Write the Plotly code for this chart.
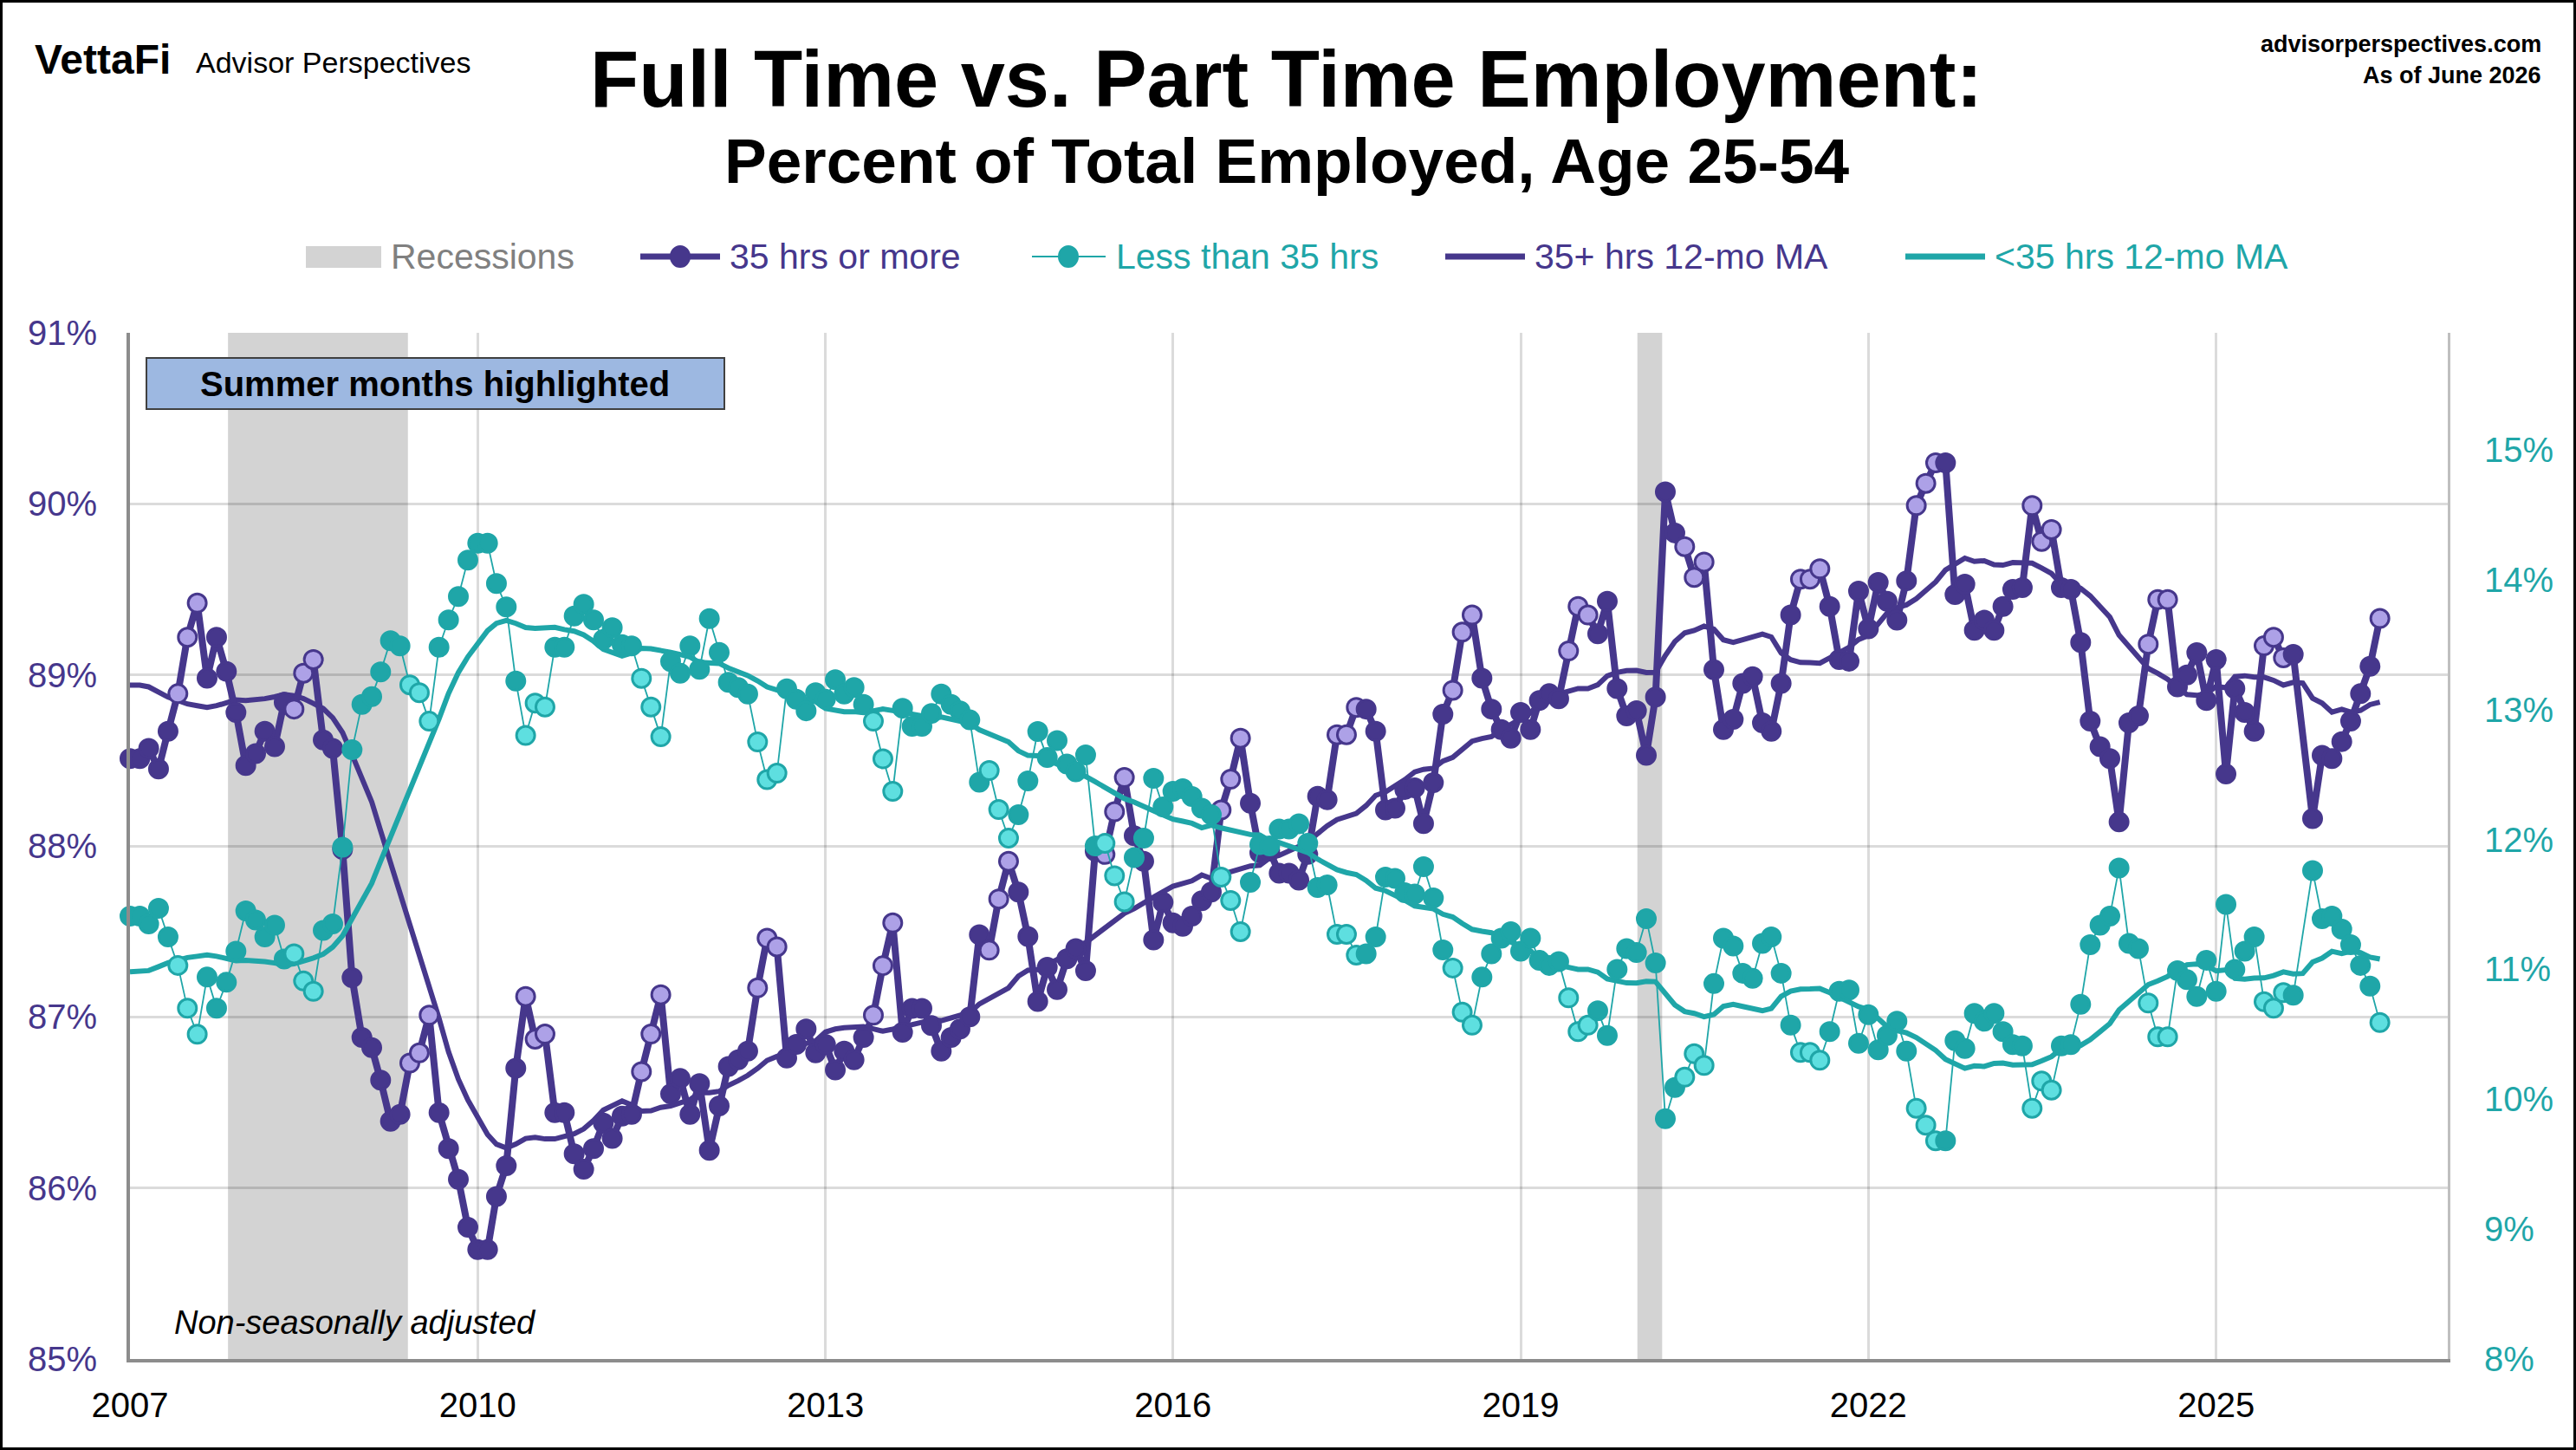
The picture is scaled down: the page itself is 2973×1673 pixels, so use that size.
import pandas as pd
import plotly.graph_objects as go

# ---------------- data ----------------
months = pd.date_range("2007-01-01", "2026-06-01", freq="MS")

full_time = [
    88.51, 88.51, 88.57, 88.45, 88.67, 88.89, 89.22, 89.42, 88.98, 89.22, 89.02, 88.78,
    88.47, 88.54, 88.67, 88.58, 88.84, 88.80, 89.01, 89.09, 88.62, 88.57, 87.98, 87.23,
    86.88, 86.82, 86.63, 86.39, 86.43, 86.73, 86.79, 87.01, 86.44, 86.23, 86.05, 85.77,
    85.64, 85.64, 85.95, 86.13, 86.70, 87.12, 86.87, 86.90, 86.44, 86.44, 86.20, 86.11,
    86.23, 86.38, 86.29, 86.42, 86.43, 86.68, 86.90, 87.13, 86.55, 86.64, 86.43, 86.61,
    86.22, 86.48, 86.71, 86.75, 86.80, 87.17, 87.46, 87.41, 86.76, 86.84, 86.93, 86.79,
    86.84, 86.69, 86.80, 86.75, 86.88, 87.01, 87.30, 87.55, 86.91, 87.05, 87.05, 86.95,
    86.80, 86.88, 86.93, 87.00, 87.48, 87.39, 87.69, 87.91, 87.73, 87.47, 87.09, 87.29,
    87.16, 87.34, 87.40, 87.27, 87.97, 87.95, 88.20, 88.40, 88.06, 87.91, 87.45, 87.67,
    87.55, 87.53, 87.59, 87.68, 87.73, 88.21, 88.39, 88.63, 88.25, 87.96, 87.97, 87.84,
    87.84, 87.80, 87.95, 88.29, 88.27, 88.65, 88.65, 88.81, 88.80, 88.67, 88.21, 88.22,
    88.33, 88.34, 88.13, 88.37, 88.77, 88.91, 89.25, 89.35, 88.98, 88.80, 88.68, 88.63,
    88.78, 88.68, 88.85, 88.89, 88.86, 89.14, 89.40, 89.35, 89.24, 89.43, 88.92, 88.76,
    88.79, 88.53, 88.87, 90.07, 89.83, 89.75, 89.57, 89.66, 89.03, 88.68, 88.74, 88.95,
    88.99, 88.72, 88.67, 88.95, 89.35, 89.56, 89.56, 89.62, 89.40, 89.09, 89.08, 89.49,
    89.27, 89.54, 89.43, 89.32, 89.55, 89.99, 90.12, 90.24, 90.24, 89.47, 89.53, 89.26,
    89.32, 89.26, 89.40, 89.50, 89.51, 89.99, 89.78, 89.85, 89.51, 89.50, 89.19, 88.73,
    88.58, 88.51, 88.14, 88.72, 88.76, 89.18, 89.44, 89.44, 88.93, 89.00, 89.13, 88.85,
    89.09, 88.42, 88.92, 88.78, 88.67, 89.17, 89.22, 89.10, 89.12, None, 88.16, 88.53,
    88.51, 88.61, 88.73, 88.89, 89.05, 89.33,
]

part_time = [
    11.41, 11.41, 11.35, 11.47, 11.25, 11.03, 10.70, 10.50, 10.94, 10.70, 10.90, 11.14,
    11.45, 11.38, 11.25, 11.34, 11.08, 11.12, 10.91, 10.83, 11.30, 11.35, 11.94, 12.69,
    13.04, 13.10, 13.29, 13.53, 13.49, 13.19, 13.13, 12.91, 13.48, 13.69, 13.87, 14.15,
    14.28, 14.28, 13.97, 13.79, 13.22, 12.80, 13.05, 13.02, 13.48, 13.48, 13.72, 13.81,
    13.69, 13.54, 13.63, 13.50, 13.49, 13.24, 13.02, 12.79, 13.37, 13.28, 13.49, 13.31,
    13.70, 13.44, 13.21, 13.17, 13.12, 12.75, 12.46, 12.51, 13.16, 13.08, 12.99, 13.13,
    13.08, 13.23, 13.12, 13.17, 13.04, 12.91, 12.62, 12.37, 13.01, 12.87, 12.87, 12.97,
    13.12, 13.04, 12.99, 12.92, 12.44, 12.53, 12.23, 12.01, 12.19, 12.45, 12.83, 12.63,
    12.76, 12.58, 12.52, 12.65, 11.95, 11.97, 11.72, 11.52, 11.86, 12.01, 12.47, 12.25,
    12.37, 12.39, 12.33, 12.24, 12.19, 11.71, 11.53, 11.29, 11.67, 11.96, 11.95, 12.08,
    12.08, 12.12, 11.97, 11.63, 11.65, 11.27, 11.27, 11.11, 11.12, 11.25, 11.71, 11.70,
    11.59, 11.58, 11.79, 11.55, 11.15, 11.01, 10.67, 10.57, 10.94, 11.12, 11.24, 11.29,
    11.14, 11.24, 11.07, 11.03, 11.06, 10.78, 10.52, 10.57, 10.68, 10.49, 11.00, 11.16,
    11.13, 11.39, 11.05, 9.85, 10.09, 10.17, 10.35, 10.26, 10.89, 11.24, 11.18, 10.97,
    10.93, 11.20, 11.25, 10.97, 10.57, 10.36, 10.36, 10.30, 10.52, 10.83, 10.84, 10.43,
    10.65, 10.38, 10.49, 10.60, 10.37, 9.93, 9.80, 9.68, 9.68, 10.45, 10.39, 10.66,
    10.60, 10.66, 10.52, 10.42, 10.41, 9.93, 10.14, 10.07, 10.41, 10.42, 10.73, 11.19,
    11.34, 11.41, 11.78, 11.20, 11.16, 10.74, 10.48, 10.48, 10.99, 10.92, 10.79, 11.07,
    10.83, 11.50, 11.00, 11.14, 11.25, 10.75, 10.70, 10.82, 10.80, None, 11.76, 11.39,
    11.41, 11.31, 11.19, 11.03, 10.87, 10.59,
]

# 12-month moving averages for Jan-Nov 2007 (their windows reach into 2006, not shown)
ft_ma_2007 = [88.94, 88.94, 88.93, 88.90, 88.87, 88.85, 88.83, 88.82, 88.81, 88.82, 88.84]
pt_ma_2007 = [10.98, 10.98, 10.99, 11.02, 11.05, 11.07, 11.09, 11.10, 11.11, 11.10, 11.08]

recession_start = ["2007-11-06", "2020-01-04"]
recession_end = ["2009-05-26", "2020-03-22"]

year_ticks = [2007, 2010, 2013, 2016, 2019, 2022, 2025]
left_ticks = [85, 86, 87, 88, 89, 90, 91]
right_ticks = [8, 9, 10, 11, 12, 13, 14, 15]

# ---------------- derived ----------------
ft = pd.Series(full_time, index=months, dtype=float)
pt = pd.Series(part_time, index=months, dtype=float)
ft_ma = ft.rolling(12, min_periods=11).mean()
pt_ma = pt.rolling(12, min_periods=11).mean()
ft_ma.iloc[:11] = ft_ma_2007
pt_ma.iloc[:11] = pt_ma_2007

summer = months.month.isin([6, 7, 8])

FT_DARK = "#46378C"
FT_LIGHT = "#ADA1E7"
PT_DARK = "#1FA6A8"
PT_LIGHT = "#5EDFE0"
FONT = "Liberation Sans, Arial, sans-serif"

W, H = 2973, 1673
L, R, T, B = 150, 148, 384, 105
PW, PH = W - L - R, H - T - B


def fx(px):
    return (px - L) / PW


def fy(py):
    return (H - B - py) / PH


fig = go.Figure()

fig.add_trace(go.Scatter(
    x=months, y=pt_ma, yaxis="y2", mode="lines", name="<35 hrs 12-mo MA",
    line=dict(color=PT_DARK, width=6), connectgaps=True, cliponaxis=False))
fig.add_trace(go.Scatter(
    x=months, y=ft_ma, mode="lines", name="35+ hrs 12-mo MA",
    line=dict(color=FT_DARK, width=6), connectgaps=True, cliponaxis=False))
fig.add_trace(go.Scatter(
    x=months, y=ft, mode="lines+markers", name="35 hrs or more",
    line=dict(color=FT_DARK, width=8), connectgaps=True, cliponaxis=False,
    marker=dict(size=21, color=[FT_LIGHT if s else FT_DARK for s in summer],
                line=dict(color=FT_DARK, width=3))))
fig.add_trace(go.Scatter(
    x=months, y=pt, yaxis="y2", mode="lines+markers", name="Less than 35 hrs",
    line=dict(color=PT_DARK, width=1.8), connectgaps=True, cliponaxis=False,
    marker=dict(size=21, color=[PT_LIGHT if s else PT_DARK for s in summer],
                line=dict(color=PT_DARK, width=3))))

shapes = []
for s, e in zip(recession_start, recession_end):
    shapes.append(dict(type="rect", xref="x", yref="paper", x0=s, x1=e, y0=0, y1=1,
                       fillcolor="#D3D3D3", line=dict(width=0), layer="below"))

# summer note box
shapes.append(dict(type="rect", xref="paper", yref="paper",
                   x0=fx(169), x1=fx(836), y0=fy(472), y1=fy(413),
                   fillcolor="#9DB8E1", line=dict(color="#404040", width=2)))

# custom legend
ly = fy(296)
shapes.append(dict(type="rect", xref="paper", yref="paper",
                   x0=fx(353), x1=fx(440), y0=fy(309), y1=fy(284),
                   fillcolor="#D3D3D3", line=dict(width=0)))
legend_lines = [
    (739, 831, FT_DARK, 7, FT_DARK, 785),
    (1191, 1276, PT_DARK, 2, PT_DARK, 1233),
    (1668, 1760, FT_DARK, 7, None, None),
    (2199, 2291, PT_DARK, 7, None, None),
]
for x0, x1, col, w, mcol, mx in legend_lines:
    shapes.append(dict(type="line", xref="paper", yref="paper",
                       x0=fx(x0), x1=fx(x1), y0=ly, y1=ly,
                       line=dict(color=col, width=w)))
    if mcol:
        shapes.append(dict(type="circle", xref="paper", yref="paper",
                           xsizemode="pixel", ysizemode="pixel",
                           xanchor=fx(mx), yanchor=ly, x0=-11, x1=11, y0=-12, y1=12,
                           fillcolor=mcol, line=dict(color=mcol, width=2)))

# outer border
shapes.append(dict(type="rect", xref="paper", yref="paper",
                   x0=fx(1.5), x1=fx(W - 1.5), y0=fy(H - 1.5), y1=fy(1.5),
                   line=dict(color="black", width=3), fillcolor="rgba(0,0,0,0)"))

annotations = [
    dict(text="<b>Full Time vs. Part Time Employment:</b>", x=fx(1484), y=fy(91),
         font=dict(size=92, color="black")),
    dict(text="<b>Percent of Total Employed, Age 25-54</b>", x=fx(1485), y=fy(186),
         font=dict(size=73, color="black")),
    dict(text="<b>VettaFi</b>", x=fx(38), y=fy(68), xanchor="left",
         font=dict(size=48, color="black", family="Liberation Sans Narrow, Liberation Sans, Arial")),
    dict(text="Advisor Perspectives", x=fx(224), y=fy(72), xanchor="left",
         font=dict(size=34, color="black")),
    dict(text="<b>advisorperspectives.com</b>", x=fx(2935), y=fy(51), xanchor="right",
         font=dict(size=27, color="black")),
    dict(text="<b>As of June 2026</b>", x=fx(2935), y=fy(87), xanchor="right",
         font=dict(size=27, color="black")),
    dict(text="<b>Summer months highlighted</b>", x=fx(502), y=fy(443),
         font=dict(size=40, color="black")),
    dict(text="<i>Non-seasonally adjusted</i>", x=fx(199), y=fy(1526), xanchor="left",
         font=dict(size=38, color="black")),
    dict(text="Recessions", x=fx(449), y=ly, xanchor="left",
         font=dict(size=41, color="#808080")),
    dict(text="35 hrs or more", x=fx(840), y=ly, xanchor="left",
         font=dict(size=41, color=FT_DARK)),
    dict(text="Less than 35 hrs", x=fx(1286), y=ly, xanchor="left",
         font=dict(size=41, color=PT_DARK)),
    dict(text="35+ hrs 12-mo MA", x=fx(1769), y=ly, xanchor="left",
         font=dict(size=41, color=FT_DARK)),
    dict(text="&lt;35 hrs 12-mo MA", x=fx(2300), y=ly, xanchor="left",
         font=dict(size=41, color=PT_DARK)),
]
for a in annotations:
    a.setdefault("xanchor", "center")
    a.update(xref="paper", yref="paper", yanchor="middle", showarrow=False)

GRID = "rgba(0,0,0,0.14)"
fig.update_layout(
    width=W, height=H, autosize=False,
    margin=dict(l=L, r=R, t=T, b=B, pad=0),
    paper_bgcolor="white", plot_bgcolor="white",
    showlegend=False,
    font=dict(family=FONT, size=40, color="black"),
    shapes=shapes, annotations=annotations,
    xaxis=dict(type="date", range=["2007-01-01", "2027-01-01"],
               tickvals=[f"{y}-01-01" for y in year_ticks],
               ticktext=[str(y) for y in year_ticks],
               showgrid=True, gridcolor=GRID, gridwidth=2.5,
               showline=True, linecolor="#8C8C8C", linewidth=4,
               ticks="", zeroline=False, ticklabelstandoff=15,
               tickfont=dict(size=40, color="black")),
    yaxis=dict(range=[85, 91], tickvals=left_ticks,
               ticktext=[f"{v}%" for v in left_ticks],
               showgrid=True, gridcolor=GRID, gridwidth=2.5,
               showline=True, linecolor="#8C8C8C", linewidth=4,
               ticks="", zeroline=False, ticklabelstandoff=26,
               tickfont=dict(size=40, color=FT_DARK)),
    yaxis2=dict(range=[8, 15.9], overlaying="y", side="right", anchor="x",
                tickvals=right_ticks, ticktext=[f"{v}%" for v in right_ticks],
                showgrid=False, showline=True, linecolor="#BFBFBF", linewidth=3,
                ticks="", zeroline=False, ticklabelstandoff=31,
                tickfont=dict(size=40, color=PT_DARK)),
)

fig.write_html("out.html")
